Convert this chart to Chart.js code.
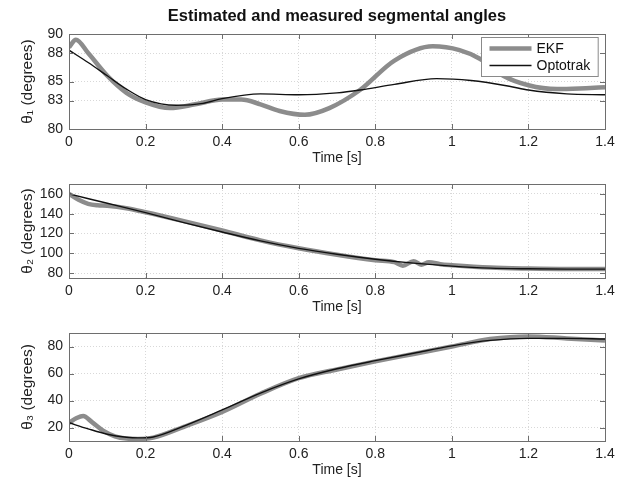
<!DOCTYPE html>
<html>
<head>
<meta charset="utf-8">
<script src="https://cdn.jsdelivr.net/npm/chart.js@4"></script>
<style>
  body { margin: 0; background: #fff; }
  .panel { position: absolute; left: 0; }
</style>
</head>
<body>
<canvas id="c1" class="panel" style="top:0" width="625" height="167"></canvas>
<canvas id="c2" class="panel" style="top:167px" width="625" height="149"></canvas>
<canvas id="c3" class="panel" style="top:316px" width="625" height="163"></canvas>
<script>
// tick labels
const timeTicks = [0, 0.2, 0.4, 0.6, 0.8, 1, 1.2, 1.4];
const theta1Ticks = [80, 83, 85, 88, 90];
const theta2Ticks = [80, 100, 120, 140, 160];
const theta3Ticks = [20, 40, 60, 80];

// theta 1
const t1Ekf = [0, 0.018, 0.05, 0.1, 0.15, 0.2, 0.264, 0.33, 0.4, 0.45, 0.5, 0.55, 0.616, 0.68, 0.76, 0.85, 0.95, 1.02, 1.073, 1.134, 1.2, 1.275, 1.35, 1.4];
const theta1Ekf = [88.6, 89.4, 88.0, 85.6, 83.8, 82.8, 82.2, 82.6, 83.1, 83.1, 82.6, 81.9, 81.5, 82.2, 84.1, 87.2, 88.7, 88.3, 87.4, 85.6, 84.6, 84.2, 84.3, 84.4];
const t1Opto = [0, 0.05, 0.1, 0.15, 0.2, 0.28, 0.35, 0.4, 0.5, 0.6, 0.7, 0.76, 0.85, 0.96, 1.05, 1.15, 1.2, 1.3, 1.4];
const theta1Opto = [88.3, 87.0, 85.6, 84.2, 83.1, 82.5, 82.7, 83.2, 83.7, 83.6, 83.8, 84.1, 84.7, 85.3, 85.1, 84.5, 84.1, 83.7, 83.6];

// theta 2
const t2Ekf = [0, 0.025, 0.05, 0.075, 0.1, 0.15, 0.2, 0.3, 0.4, 0.5, 0.6, 0.7, 0.8, 0.85, 0.872, 0.9, 0.92, 0.94, 0.97, 1.0, 1.1, 1.2, 1.3, 1.4];
const theta2Ekf = [160, 154, 150, 148.5, 148, 145.5, 141.5, 132.5, 123, 113, 105, 98.5, 93, 91, 87.5, 92, 88.5, 91, 89, 88, 85.5, 84.5, 84, 84];
const t2Opto = [0, 0.1, 0.2, 0.3, 0.4, 0.5, 0.6, 0.7, 0.8, 0.9, 1.0, 1.1, 1.2, 1.3, 1.4];
const theta2Opto = [160, 150.5, 141, 131, 121.5, 112.5, 105, 99, 94, 90, 87, 85, 84.3, 84, 84];

// theta 3
const t3Ekf = [0, 0.02, 0.037, 0.06, 0.09, 0.12, 0.15, 0.18, 0.22, 0.3, 0.4, 0.5, 0.6, 0.7, 0.8, 0.9, 1.0, 1.1, 1.2, 1.3, 1.4];
const theta3Ekf = [23.5, 27, 28.5, 24, 17.5, 13.5, 11.8, 11.5, 12.5, 20.5, 31.5, 45, 56.5, 63, 69, 74.5, 80, 85.5, 87.5, 86, 84.5];
const t3Opto = [0, 0.05, 0.1, 0.15, 0.18, 0.22, 0.3, 0.4, 0.5, 0.6, 0.7, 0.8, 0.9, 1.0, 1.1, 1.2, 1.3, 1.4];
const theta3Opto = [23.5, 19, 15, 12.8, 12.3, 13, 21, 33, 45.5, 56, 63.5, 69.5, 75, 80.5, 84.5, 86, 86, 85.5];

const FONT = "'Liberation Sans', Arial, sans-serif";
const FRAME = "#6e6e6e";

function pts(t, v) {
  return t.map((x, i) => ({ x: x, y: v[i] }));
}

// box round the axes plus inward tick marks, like matlab "box on"
const boxPlugin = {
  id: "box",
  afterDatasetsDraw(chart) {
    const { ctx, chartArea: a, scales } = chart;
    ctx.save();
    ctx.strokeStyle = FRAME;
    ctx.lineWidth = 1;
    ctx.beginPath();
    scales.x.ticks.forEach(tk => {
      const px = Math.round(scales.x.getPixelForValue(tk.value)) + 0.5;
      ctx.moveTo(px, a.bottom); ctx.lineTo(px, a.bottom - 5);
      ctx.moveTo(px, a.top); ctx.lineTo(px, a.top + 5);
    });
    scales.y.ticks.forEach(tk => {
      const py = Math.round(scales.y.getPixelForValue(tk.value)) + 0.5;
      ctx.moveTo(a.left, py); ctx.lineTo(a.left + 5, py);
      ctx.moveTo(a.right, py); ctx.lineTo(a.right - 5, py);
    });
    ctx.stroke();
    ctx.strokeRect(Math.round(a.left) + 0.5, Math.round(a.top) + 0.5,
      Math.round(a.right - a.left), Math.round(a.bottom - a.top));
    ctx.restore();
  }
};

// legend drawn over the lines (top right, inside the axes)
const legendBoxPlugin = {
  id: "legendBox",
  afterDatasetsDraw(chart, args, opts) {
    if (!opts.show) return;
    const { ctx, chartArea: a } = chart;
    const ds = chart.data.datasets;
    ctx.save();
    ctx.font = "14px " + FONT;
    const textW = Math.max(...ds.map(d => ctx.measureText(d.label).width));
    const w = 8 + 42 + 5 + textW + 8;
    const h = 39;
    const x0 = Math.round(a.right - 7 - w) + 0.5;
    const y0 = Math.round(a.top + 3) + 0.5;
    ctx.fillStyle = "#fff";
    ctx.fillRect(x0, y0, w, h);
    ctx.strokeStyle = "#8a8a8a";
    ctx.lineWidth = 1;
    ctx.strokeRect(x0, y0, w, h);
    ds.forEach((d, i) => {
      const y = y0 + 11 + i * 17;
      ctx.strokeStyle = d.borderColor;
      ctx.lineWidth = d.borderWidth;
      ctx.beginPath();
      ctx.moveTo(x0 + 8, y); ctx.lineTo(x0 + 50, y);
      ctx.stroke();
      ctx.fillStyle = "#111";
      ctx.textBaseline = "middle";
      ctx.fillText(d.label, x0 + 55, y + 0.5);
    });
    ctx.restore();
  }
};

function makePanel(id, ekf, opto, yMin, yMax, yTicks, yLabel, padTop, title) {
  return new Chart(document.getElementById(id), {
    type: "line",
    data: {
      datasets: [
        {
          label: "EKF",
          data: ekf,
          borderColor: "#8c8c8c",
          borderWidth: 4.5,
          pointRadius: 0,
          cubicInterpolationMode: "monotone",
          order: 2,
        },
        {
          label: "Optotrak",
          data: opto,
          borderColor: "#111111",
          borderWidth: 1.4,
          pointRadius: 0,
          cubicInterpolationMode: "monotone",
          order: 1,
        },
      ],
    },
    options: {
      responsive: false,
      animation: false,
      devicePixelRatio: 1,
      layout: { padding: { top: padTop, right: 20, left: 0, bottom: 0 } },
      plugins: {
        legend: { display: false },
        tooltip: { enabled: false },
        legendBox: { show: !!title },
        title: {
          display: !!title,
          text: title || "",
          fullSize: false,
          color: "#111",
          font: { family: FONT, size: 16.5, weight: "bold", lineHeight: 1.2 },
          padding: { top: 6.5, bottom: 7.7 },
        },
      },
      scales: {
        x: {
          type: "linear",
          min: 0,
          max: 1.4,
          afterBuildTicks: s => { s.ticks = timeTicks.map(v => ({ value: v })); },
          afterFit: s => { s.height = 38; },
          ticks: {
            color: "#222",
            font: { family: FONT, size: 14 },
            padding: 5,
            maxRotation: 0,
            callback: v => String(v),
          },
          grid: { color: "#d8d8d8", drawTicks: false },
          border: { display: false, dash: [1, 2] },
          title: {
            display: true,
            text: "Time [s]",
            color: "#222",
            font: { family: FONT, size: 14 },
            padding: { top: 0, bottom: 0 },
          },
        },
        y: {
          min: yMin,
          max: yMax,
          afterBuildTicks: s => { s.ticks = yTicks.map(v => ({ value: v })); },
          afterFit: s => { s.width = 69; },
          ticks: {
            color: "#222",
            font: { family: FONT, size: 14 },
            padding: 6,
          },
          grid: { color: "#d8d8d8", drawTicks: false },
          border: { display: false, dash: [1, 2] },
          title: {
            display: true,
            text: yLabel,
            color: "#222",
            font: { family: FONT, size: 15.5 },
            padding: { top: 18, bottom: 0 },
          },
        },
      },
    },
    plugins: [boxPlugin, legendBoxPlugin],
  });
}

makePanel("c1", pts(t1Ekf, theta1Ekf), pts(t1Opto, theta1Opto), 80, 90, theta1Ticks,
  "θ₁ (degrees)", 0, "Estimated and measured segmental angles");
makePanel("c2", pts(t2Ekf, theta2Ekf), pts(t2Opto, theta2Opto), 75, 170, theta2Ticks,
  "θ₂ (degrees)", 17);
makePanel("c3", pts(t3Ekf, theta3Ekf), pts(t3Opto, theta3Opto), 10, 90, theta3Ticks,
  "θ₃ (degrees)", 17);
</script>
</body>
</html>
